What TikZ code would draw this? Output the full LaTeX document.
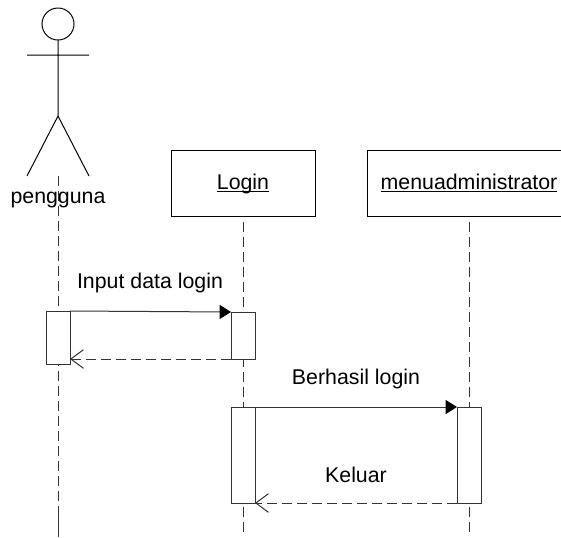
\documentclass[tikz,border=0pt]{standalone}
\usepackage{fontspec}
\setmainfont{Liberation Sans}
\usetikzlibrary{arrows.meta,calc,positioning}

\tikzset{
	line/.style={line width=0.75pt, draw=black!80},
	lifeline/.style={line, dash pattern=on 7.5pt off 3.75pt},
	objbox/.style={line, draw=black, fill=white, anchor=north west, inner sep=0pt, outer sep=0pt, minimum width=108pt, minimum height=49.5pt, text height=11.5pt, text depth=2pt, font=\fontsize{16}{18}\selectfont},
	actbar/.style={line, fill=white, anchor=north west, inner sep=0pt, outer sep=0pt, minimum width=18pt},
	msgtext/.style={inner sep=0pt, font=\fontsize{16}{18}\selectfont},
	call/.style={line, -{Triangle[length=8.5pt,width=10.5pt,color=black,fill=black]}},
	reply/.style={line, dash pattern=on 7.5pt off 3.75pt, -{Straight Barb[length=9.5pt,width=14pt,line width=0.75pt]}}
}

\begin{document}
\begin{tikzpicture}[x=0.75pt,y=-0.75pt]
	\useasboundingbox (0,0) rectangle (561,537);
	% actor
	\coordinate (head) at (58,24);
	\coordinate (hip) at (58,116);
	\draw[line,draw=black] (head) circle (12pt);
	\draw[line,draw=black] ($(head)+(0,16)$) -- (hip) (27,55) -- (89,55) (27,176) -- (hip) -- (89,176);
	\node[msgtext] (pengguna) at (58,200) {pengguna};
	% objects
	\node[objbox] (login) at (171,150) {\underline{\smash{Login}}};
	\node[objbox, minimum width=153pt] (menuadmin) at (367,150) {\underline{\smash{menuadministrator}}};
	% lifelines
	\coordinate (p) at (58,176);
	\coordinate (l) at (243,222);
	\coordinate (m) at (469,222);
	\draw[lifeline] (p) -- (p |- {0,537});
	\draw[lifeline] (l) -- (l |- {0,537});
	\draw[lifeline] (m) -- (m |- {0,537});
	\draw[line] (p |- {0,515}) -- (p |- {0,537});
	% activations
	\node[actbar, minimum height=39.75pt] (a1) at (46,311) {};
	\node[actbar, minimum height=35.25pt] (a2) at (231,312) {};
	\node[actbar, minimum height=72pt] (a3) at (231,407) {};
	\node[actbar, minimum height=72pt] (a4) at (457,407) {};
	% messages
	\draw[call] (a1.north east) -- (a2.north west);
	\draw[reply] (a2.south west) -- (a2.south west -| a1.east);
	\draw[call] (a3.north east) -- (a4.north west);
	\draw[reply] (a4.south west) -- (a3.south east);
	\node[msgtext] (input) at (150,283) {Input data login};
	\node[msgtext] (berhasil) at (356,379) {Berhasil login};
	\node[msgtext] (keluar) at (356,475) {Keluar};
\end{tikzpicture}
\end{document}
